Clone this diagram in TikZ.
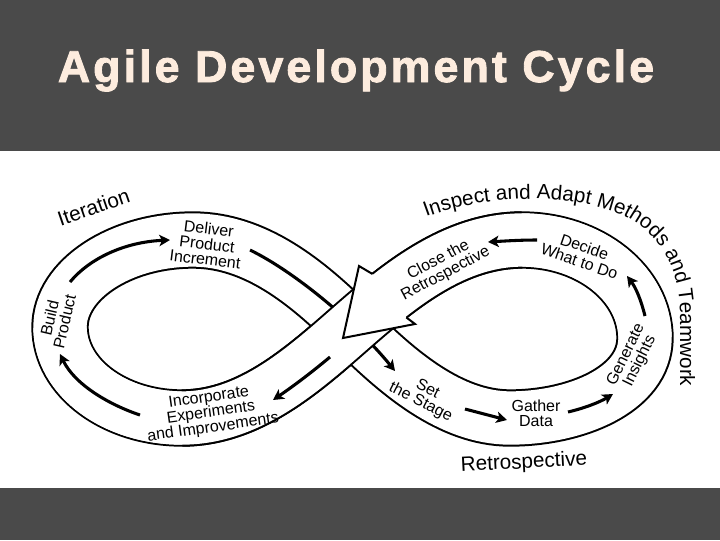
\documentclass[tikz,border=0pt]{standalone}
\usepackage{fontspec}
\setmainfont{Liberation Sans}
\newfontfamily\titlefont{Liberation Sans}[LetterSpace=7, BoldFeatures={FakeBold=2}]
\newcommand\arcfont{\fontsize{15.5}{18}\selectfont}
\usetikzlibrary{arrows.meta,decorations.text,calc,positioning}
\definecolor{darkband}{RGB}{74,74,74}
\definecolor{titlecream}{RGB}{253,236,222}

\begin{document}
\begin{tikzpicture}[x=0.75pt, y=-0.75pt,
    band/.style={draw=black, line width=1.5pt, double=white, double distance=40pt},
    flow/.style={line width=2.3pt, -{Stealth[length=8pt,width=8.5pt,inset=2pt]}},
    lbl/.style={align=center, font=\fontsize{12}{11.5}\selectfont, inner sep=0pt},
    big/.style={font=\arcfont, inner sep=0pt}]
    \useasboundingbox (0,0) rectangle (720,540);
    \fill[darkband] (0,0) rectangle (720,151);
    \fill[white] (0,151) rectangle (720,488);
    \fill[darkband] (0,488) rectangle (720,540);
    \node[font=\titlefont\bfseries\fontsize{33.5}{40}\selectfont, text=titlecream,
        anchor=base] (title) at (356,82) {Agile Development Cycle};

    \coordinate (cross) at (352,327);
    \coordinate (rtop) at (522,240);
    \coordinate (rright) at (645,338);
    \coordinate (rbot) at (510,418);
    \coordinate (ltop) at (193,240);
    \coordinate (lleft) at (60,327);
    \coordinate (lbot) at (182,418);

    \draw[band] (cross) .. controls (400,285) and (455,240) .. (rtop)
        .. controls (590,240) and (645,284) .. (rright)
        .. controls (645,390) and (575,418) .. (rbot)
        .. controls (450,418) and (397,372) .. (cross)
        .. controls (307,282) and (255,240) .. (ltop)
        .. controls (120,240) and (60,280) .. (lleft)
        .. controls (60,378) and (115,418) .. (lbot)
        .. controls (250,418) and (304,369) .. (cross);

    \coordinate (deliverout) at (250,250);
    \coordinate (stagein) at (395,371);
    \draw[flow] (deliverout) .. controls (295,272) and (355,322) .. (stagein);

    % strand on top at the crossing
    \draw[black, line width=43pt] (lbot) .. controls (250,418) and (304,369) .. (cross)
        .. controls (400,285) and (455,240) .. (rtop);
    \draw[white, line width=40pt] (lleft) .. controls (60,378) and (115,418) .. (lbot)
        .. controls (250,418) and (304,369) .. (cross)
        .. controls (400,285) and (455,240) .. (rtop)
        .. controls (590,240) and (645,284) .. (rright);

    \coordinate (notchA) at (372.5,274);
    \coordinate (barbA) at (359,266);
    \coordinate (tip) at (343,338);
    \coordinate (barbB) at (415,324);
    \coordinate (notchB) at (406.3,317.4);
    \filldraw[fill=white, draw=black, line width=1.5pt] (notchA) -- (barbA) -- (tip) -- (barbB) -- (notchB);

    \node[lbl, rotate=-7] (deliver) at (207,244) {Deliver\\Product\\Increment};
    \node[lbl, rotate=77] (build) at (57,320) {Build\\Product};
    \node[lbl, rotate=8] (incorp) at (211,413) {Incorporate\\Experiments\\and Improvements};
    \node[lbl, rotate=-27] (stage) at (424,396) {Set\\the Stage};
    \node[lbl] (gather) at (536,413) {Gather\\Data};
    \node[lbl, rotate=64] (insights) at (633,358) {Generate\\Insights};
    \node[lbl, rotate=-19] (decide) at (582,254) {Decide\\What to Do};
    \node[lbl, rotate=28] (close) at (442,267) {Close the\\Retrospective};
    \node[big, rotate=19, anchor=base] (iteration) at (96,214) {Iteration};
    \node[big, rotate=3] (retro) at (524,463) {Retrospective};
    \path[decorate, decoration={text along path, text align=left,
        text={|\arcfont|Inspect and Adapt Methods and Teamwork}}]
        (426,217) .. controls (485,195) and (565,192) .. (620,214)
        .. controls (660,232) and (680,268) .. (680,315) -- (680,400);

    \coordinate (buildout) at (70,282);
    \coordinate (deliverin) at (170,240);
    \coordinate (stageout) at (465,409);
    \coordinate (gatherin) at (507,420);
    \coordinate (gatherout) at (568,412);
    \coordinate (insightsin) at (613,394);
    \coordinate (insightsout) at (645,316);
    \coordinate (decidein) at (627,276);
    \coordinate (decideout) at (537,240);
    \coordinate (closein) at (488,242);
    \coordinate (tipout) at (330,357);
    \coordinate (incorpin) at (273,400);
    \coordinate (incorpout) at (140,415);
    \coordinate (buildin) at (60,354);

    \draw[flow] (buildout) .. controls (90,258) and (125,242) .. (deliverin);
    \draw[flow] (stageout) -- (gatherin);
    \draw[flow] (gatherout) .. controls (585,408) and (600,402) .. (insightsin);
    \draw[flow] (insightsout) .. controls (641,300) and (636,288) .. (decidein);
    \draw[flow] (decideout) .. controls (520,240) and (505,241) .. (closein);
    \draw[flow] (tipout) .. controls (312,372) and (295,385) .. (incorpin);
    \draw[flow] (incorpout) .. controls (110,405) and (75,385) .. (buildin);
\end{tikzpicture}
\end{document}
